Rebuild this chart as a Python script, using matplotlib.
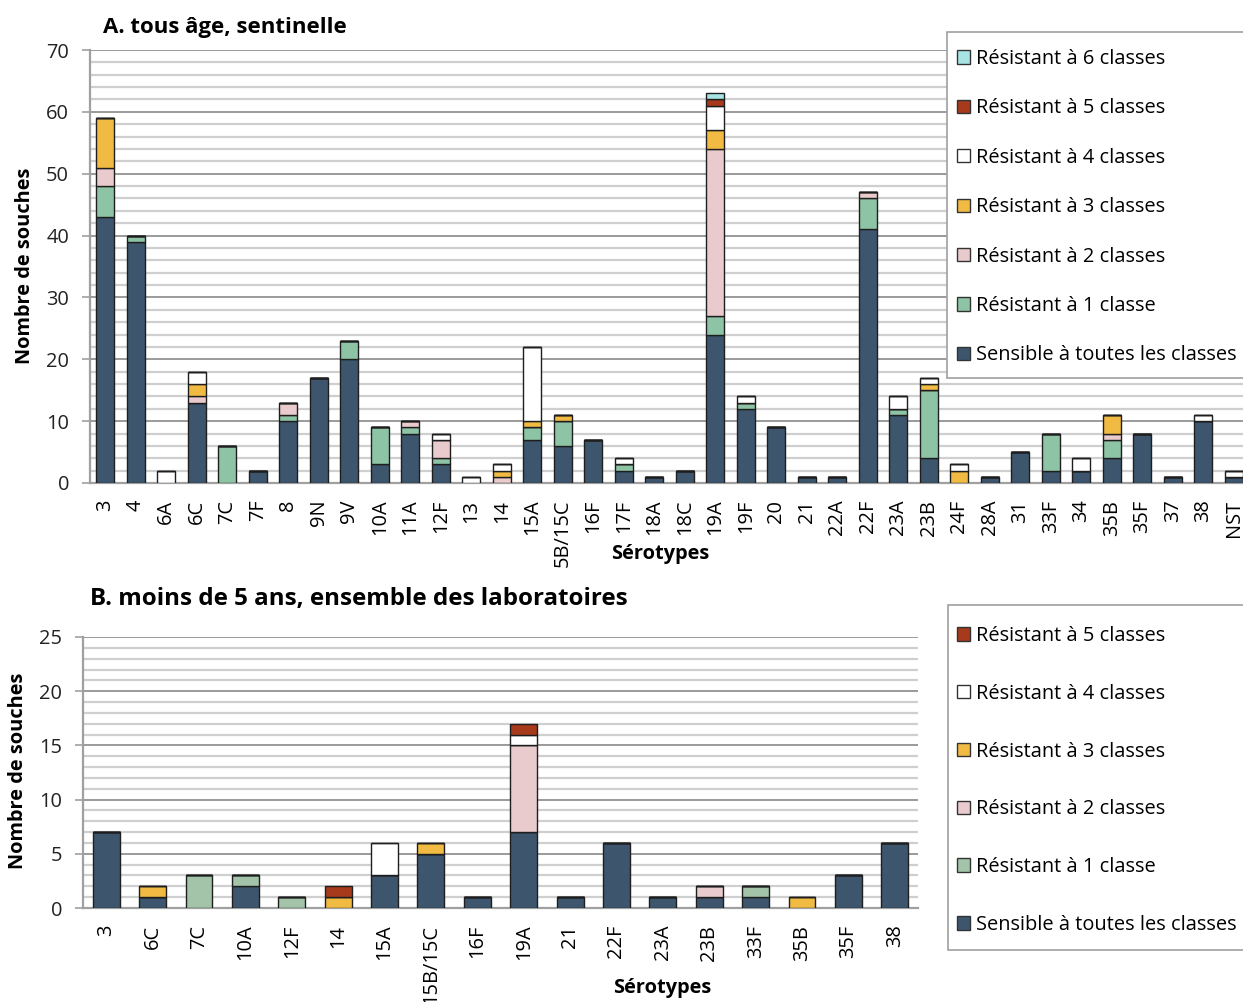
import matplotlib
matplotlib.use("Agg")
import matplotlib.pyplot as plt
import numpy as np
from matplotlib.patches import Patch, Rectangle

plt.rcParams['font.family'] = ['Open Sans', 'DejaVu Sans']

# ---------------- Panel A data ----------------
cats_a = ["3", "4", "6A", "6C", "7C", "7F", "8", "9N", "9V", "10A", "11A", "12F", "13", "14",
          "15A", "5B/15C", "16F", "17F", "18A", "18C", "19A", "19F", "20", "21", "22A", "22F",
          "23A", "23B", "24F", "28A", "31", "33F", "34", "35B", "35F", "37", "38", "NST"]
sens_a = [43, 39, 0, 13, 0, 2, 10, 17, 20, 3, 8, 3, 0, 0, 7, 6, 7, 2, 1, 2, 24, 12, 9, 1, 1, 41,
          11, 4, 0, 1, 5, 2, 2, 4, 8, 1, 10, 1]
r1_a = [5, 1, 0, 0, 6, 0, 1, 0, 3, 6, 1, 1, 0, 0, 2, 4, 0, 1, 0, 0, 3, 1, 0, 0, 0, 5,
        1, 11, 0, 0, 0, 6, 0, 3, 0, 0, 0, 0]
r2_a = [3, 0, 0, 1, 0, 0, 2, 0, 0, 0, 1, 3, 0, 1, 0, 0, 0, 0, 0, 0, 27, 0, 0, 0, 0, 1,
        0, 0, 0, 0, 0, 0, 0, 1, 0, 0, 0, 0]
r3_a = [8, 0, 0, 2, 0, 0, 0, 0, 0, 0, 0, 0, 0, 1, 1, 1, 0, 0, 0, 0, 3, 0, 0, 0, 0, 0,
        0, 1, 2, 0, 0, 0, 0, 3, 0, 0, 0, 0]
r4_a = [0, 0, 2, 2, 0, 0, 0, 0, 0, 0, 0, 1, 1, 1, 12, 0, 0, 1, 0, 0, 4, 1, 0, 0, 0, 0,
        2, 1, 1, 0, 0, 0, 2, 0, 0, 0, 1, 1]
r5_a = [0] * 20 + [1] + [0] * 17
r6_a = [0] * 20 + [1] + [0] * 17

# ---------------- Panel B data ----------------
cats_b = ["3", "6C", "7C", "10A", "12F", "14", "15A", "15B/15C", "16F", "19A", "21", "22F",
          "23A", "23B", "33F", "35B", "35F", "38"]
sens_b = [7, 1, 0, 2, 0, 0, 3, 5, 1, 7, 1, 6, 1, 1, 1, 0, 3, 6]
r1_b = [0, 0, 3, 1, 1, 0, 0, 0, 0, 0, 0, 0, 0, 0, 1, 0, 0, 0]
r2_b = [0, 0, 0, 0, 0, 0, 0, 0, 0, 8, 0, 0, 0, 1, 0, 0, 0, 0]
r3_b = [0, 1, 0, 0, 0, 1, 0, 1, 0, 0, 0, 0, 0, 0, 0, 1, 0, 0]
r4_b = [0, 0, 0, 0, 0, 0, 3, 0, 0, 1, 0, 0, 0, 0, 0, 0, 0, 0]
r5_b = [0, 0, 0, 0, 0, 1, 0, 0, 0, 1, 0, 0, 0, 0, 0, 0, 0, 0]

labels = ["Sensible à toutes les classes", "Résistant à 1 classe", "Résistant à 2 classes",
          "Résistant à 3 classes", "Résistant à 4 classes", "Résistant à 5 classes",
          "Résistant à 6 classes"]
colors_a = ["#3D566E", "#8EC4A6", "#E9CBCD", "#F0BA43", "#FFFFFF", "#A63A1B", "#A8E4E4"]
colors_b = ["#3D566E", "#A3C4A8", "#E9CBCD", "#F0BA43", "#FFFFFF", "#A63A1B"]

fig = plt.figure(figsize=(12.43, 10.02), dpi=100)

W, H = 1243, 1002
FS = 14.4


def ax_rect(l, t, r, b):
    return [l / W, 1 - b / H, (r - l) / W, (b - t) / H]


def style_axis(ax, ymax, major, minor):
    ax.set_ylim(0, ymax)
    ax.set_yticks(np.arange(0, ymax + 0.1, major))
    ax.set_yticks(np.arange(0, ymax + 0.1, minor), minor=True)
    ax.grid(axis='y', which='minor', color='#CFCFCF', lw=1.6, zorder=0)
    ax.grid(axis='y', which='major', color='#9A9A9A', lw=1.4, zorder=0)
    ax.set_axisbelow(True)
    for s in ['top', 'right']:
        ax.spines[s].set_visible(False)
    ax.spines['left'].set_color('#A0A0A0')
    ax.spines['left'].set_linewidth(1.6)
    ax.spines['bottom'].set_color('#A0A0A0')
    ax.spines['bottom'].set_linewidth(1.6)
    ax.tick_params(axis='y', which='major', length=6, color='#A0A0A0', width=1.2,
                   labelsize=FS, pad=9)
    ax.tick_params(axis='y', which='minor', length=0)
    ax.tick_params(axis='x', length=0, labelsize=FS, pad=12)
    for lab in ax.get_yticklabels():
        lab.set_color('#222222')


def draw(ax, cats, series, colors, width):
    x = np.arange(len(cats))
    bottom = np.zeros(len(cats))
    for vals, c in zip(series, colors):
        v = np.array(vals, dtype=float)
        ax.bar(x, v, width, bottom=bottom, color=c, edgecolor='#1E1E1E', linewidth=1.0, zorder=3)
        bottom += v
    ax.set_xticks(x)
    ax.set_xticklabels(cats, rotation=90, ha='center', va='top')


def frame(l, t, r, b):
    rect = Rectangle((l / W, 1 - b / H), (r - l) / W, (b - t) / H, transform=fig.transFigure,
                     facecolor='white', edgecolor='#A0A0A0', linewidth=1.2, zorder=4)
    fig.add_artist(rect)


# ---------- Panel A ----------
axA = fig.add_axes(ax_rect(90, 50, 1246, 483))
draw(axA, cats_a, [sens_a, r1_a, r2_a, r3_a, r4_a, r5_a, r6_a], colors_a, 0.58)
axA.set_xlim(-0.5, len(cats_a) - 0.6)
style_axis(axA, 70, 10, 2)
fig.text(25 / W, 1 - 266 / H, "Nombre de souches", fontsize=FS, fontweight='bold',
         rotation=90, ha='center', va='center')
fig.text(103 / W, 1 - 27.5 / H, "A. tous âge, sentinelle", fontsize=16, fontweight='bold',
         ha='left', va='center')
fig.text(660 / W, 1 - 554 / H, "Sérotypes", fontsize=FS, fontweight='bold', ha='center', va='center')

frame(947, 32, 1252, 378)
handles_a = [Patch(facecolor=c, edgecolor='#333333', linewidth=1.0) for c in colors_a]
legA = fig.legend(handles_a[::-1], labels[::-1], loc='upper left',
                  bbox_to_anchor=(957 / W, 1 - 49 / H), fontsize=FS, frameon=False,
                  labelspacing=1.47, handlelength=0.65,
                  handleheight=0.65, handletextpad=0.3, borderpad=0, borderaxespad=0)
legA.set_zorder(6)

# ---------- Panel B ----------
axB = fig.add_axes(ax_rect(83, 637, 918, 908))
draw(axB, cats_b, [sens_b, r1_b, r2_b, r3_b, r4_b, r5_b], colors_b, 0.58)
axB.set_xlim(-0.5, len(cats_b) - 0.5)
style_axis(axB, 25, 5, 1)
fig.text(18 / W, 1 - 771 / H, "Nombre de souches", fontsize=FS, fontweight='bold',
         rotation=90, ha='center', va='center')
fig.text(90 / W, 1 - 599 / H, "B. moins de 5 ans, ensemble des laboratoires", fontsize=17.4,
         fontweight='bold', ha='left', va='center')
fig.text(662 / W, 1 - 988 / H, "Sérotypes", fontsize=FS, fontweight='bold', ha='center', va='center')

frame(948, 605, 1252, 950)
handles_b = [Patch(facecolor=c, edgecolor='#333333', linewidth=1.0) for c in colors_b]
legB = fig.legend(handles_b[::-1], labels[:6][::-1], loc='upper left',
                  bbox_to_anchor=(957 / W, 1 - 626 / H), fontsize=FS, frameon=False,
                  labelspacing=1.89, handlelength=0.65,
                  handleheight=0.65, handletextpad=0.3, borderpad=0, borderaxespad=0)
legB.set_zorder(6)

fig.savefig("out.png", dpi=100)
